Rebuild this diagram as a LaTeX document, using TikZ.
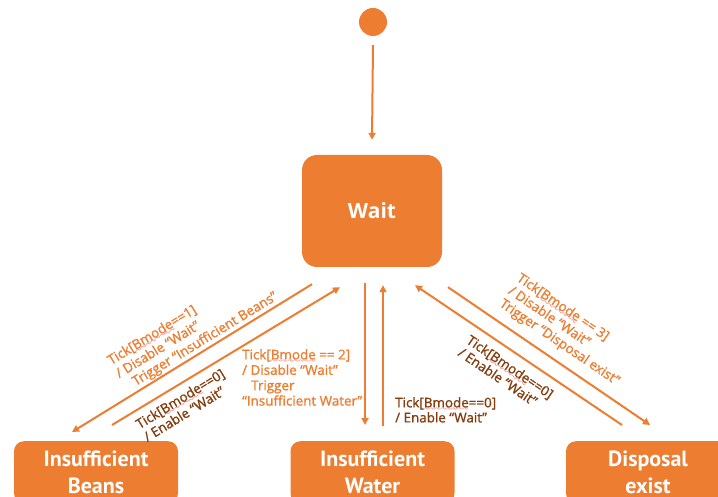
\documentclass[tikz,border=0pt]{standalone}
\usepackage{fontspec}
\setmainfont{Open Sans}
\newfontface\labfont{Open Sans}[FakeBold=1.2]
\newfontface\boxfont{PT Sans Bold}
\usetikzlibrary{arrows.meta}
\definecolor{ora}{HTML}{ED7D31}
\definecolor{brn}{HTML}{843C0C}
\font\wavefont=lasy6
\newcommand\spl[1]{\leavevmode\setbox0\hbox{#1}\rlap{\textcolor{red}{\lower3pt\hbox to\wd0{\xleaders\hbox{\wavefont\char58}\hfil}}}\box0\relax}
\tikzset{
  state/.style={fill=ora,draw=none,rounded corners=15pt,text=white,font=\fontsize{21}{27}\selectfont\bfseries,align=center,inner sep=0pt},
  sub/.style={fill=ora,draw=none,rounded corners=10pt,text=white,font=\boxfont\fontsize{22}{27}\selectfont,align=center,inner sep=0pt,minimum width=164pt,minimum height=62pt,anchor=north},
  arr/.style={draw=ora,line width=2pt,-{Triangle[length=7pt,width=7pt]}},
  olab/.style={text=ora,font=\labfont\fontsize{13.4}{15.4}\selectfont,align=left,inner sep=0pt},
  blab/.style={text=brn,font=\labfont\fontsize{13.4}{15}\selectfont,align=left,inner sep=0pt}
}
\begin{document}
\begin{tikzpicture}[x=1pt,y=-1pt]
\useasboundingbox (0,0) rectangle (718,497);
\node[circle,fill=ora,minimum size=28pt,inner sep=0pt] (init) at (373,22) {};
\node[state,minimum width=140pt,minimum height=112pt] (wait) at (372,211) {Wait};
\node[sub] (beans) at (96,441) {Insufficient\\Beans};
\node[sub] (water) at (372.5,441) {Insufficient\\Water};
\node[sub] (disp) at (648,441) {Disposal\\exist};

\draw[arr] ([shift={(0,9)}]init.south) -- ([shift={(0,-15)}]wait.north);
\draw[arr] ([shift={(-60,17)}]wait.south) -- ([shift={(-24,-9)}]beans.north);
\draw[arr] ([shift={(16,-16)}]beans.north) -- ([shift={(-32,20)}]wait.south);
\draw[arr] ([shift={(-7,16)}]wait.south) -- ([shift={(-7.5,-16)}]water.north);
\draw[arr] ([shift={(10.5,-15)}]water.north) -- ([shift={(11,18)}]wait.south);
\draw[arr] ([shift={(76,20)}]wait.south) -- ([shift={(2,-16)}]disp.north);
\draw[arr] ([shift={(-26,-16)}]disp.north) -- ([shift={(43,18)}]wait.south);

\node[olab,rotate=31.5] (l1) at (193,329) {Tick[\spl{Bmode}==1]\\/ Disable “Wait”\\\hspace{10pt}Trigger “Insufficient Beans”};
\node[blab,rotate=31.5] (l2) at (184,405) {Tick[\spl{Bmode}==0]\\/ Enable “Wait”};
\node[olab,anchor=north west] (l3) at (242,349) {Tick[\spl{Bmode} == 2]\\/ Disable “Wait”\\\hspace{9pt}Trigger\\“Insufficient Water”};
\node[blab,anchor=north west] (l4) at (395,397) {Tick[\spl{Bmode}==0]\\/ Enable “Wait”};
\node[olab,rotate=-34.2] (l5) at (568,330) {Tick[\spl{Bmode} == 3]\\/ Disable “Wait”\\Trigger “Disposal exist”};
\node[blab,rotate=-34.2] (l6) at (506,373) {Tick[\spl{Bmode}==0]\\/ Enable “Wait”};
\end{tikzpicture}
\end{document}
